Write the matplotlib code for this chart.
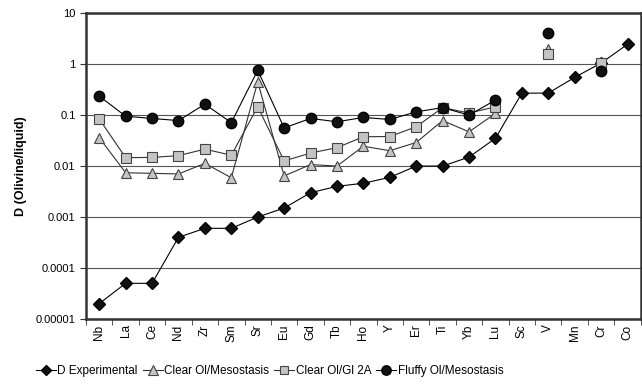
import numpy as np
import matplotlib.pyplot as plt
from matplotlib.ticker import FixedLocator, FixedFormatter, NullLocator

plt.rcParams['font.family'] = ['Liberation Sans', 'DejaVu Sans']

elements = ["Nb", "La", "Ce", "Nd", "Zr", "Sm", "Sr", "Eu", "Gd", "Tb", "Ho",
            "Y", "Er", "Ti", "Yb", "Lu", "Sc", "V", "Mn", "Cr", "Co"]
nan = np.nan
d_exp = [2e-5, 5e-5, 5e-5, 4e-4, 6e-4, 6e-4, 1e-3, 1.5e-3, 3e-3, 4e-3, 4.6e-3,
         6e-3, 0.01, 0.01, 0.015, 0.035, 0.27, 0.27, 0.55, 1.05, 2.45]
clear_meso = [0.036, 0.0074, 0.0072, 0.007, 0.0113, 0.0059, 0.45, 0.0064, 0.0107,
              0.01, 0.0245, 0.02, 0.029, 0.078, 0.047, 0.108, nan, 2.0, nan, 1.1, nan]
clear_gl2a = [0.084, 0.0146, 0.0148, 0.016, 0.0215, 0.0163, 0.146, 0.0126, 0.018,
              0.023, 0.0376, 0.038, 0.059, 0.14, 0.11, 0.145, nan, 1.6, nan, 1.03, nan]
fluffy = [0.236, 0.095, 0.086, 0.078, 0.164, 0.071, 0.76, 0.056, 0.086, 0.074, 0.09,
          0.082, 0.116, 0.14, 0.1, 0.197, nan, 4.0, nan, 0.73, nan]

x = np.arange(len(elements))

fig = plt.figure(figsize=(6.42, 3.88), dpi=100)
ax = fig.add_axes([0.134, 0.178, 0.864, 0.788])

ax.plot(x, d_exp, color="black", lw=0.8, marker="D", ms=5.8, mfc="#111111",
        mec="black", label="D Experimental", zorder=3)
ax.plot(x, clear_meso, color="#333333", lw=0.8, marker="^", ms=7.5, mfc="#c4c4c4",
        mec="#444444", mew=0.8, label="Clear Ol/Mesostasis", zorder=3)
ax.plot(x, clear_gl2a, color="#333333", lw=0.8, marker="s", ms=7, mfc="#c4c4c4",
        mec="#444444", mew=0.8, label="Clear Ol/Gl 2A", zorder=4)
ax.plot(x, fluffy, color="black", lw=0.8, marker="o", ms=7.5, mfc="#111111",
        mec="black", label="Fluffy Ol/Mesostasis", zorder=5)

ax.set_yscale("log")
ax.set_ylim(1e-5, 10)
ax.set_xlim(-0.5, len(elements) - 0.5)
yt = [1e-5, 1e-4, 1e-3, 1e-2, 1e-1, 1, 10]
ax.yaxis.set_major_locator(FixedLocator(yt))
ax.yaxis.set_major_formatter(FixedFormatter(["0.00001", "0.0001", "0.001", "0.01", "0.1", "1", "10"]))
ax.yaxis.set_minor_locator(NullLocator())
ax.grid(axis="y", color="#555555", lw=0.8)

ax.set_xticks(x)
ax.set_xticklabels(elements, rotation=90, fontsize=8.5)
ax.tick_params(axis="x", length=0, pad=4)
ax.set_xticks(np.arange(-0.5, len(elements)), minor=True)
ax.tick_params(axis="x", which="minor", length=4, color="#333333")
ax.tick_params(axis="y", labelsize=8, length=4, color="#333333")

for s in ax.spines.values():
    s.set_linewidth(1.8)
    s.set_color("#333333")

ax.set_ylabel("D (Olivine/liquid)", fontsize=9, fontweight="bold", labelpad=6)

handles, labels = ax.get_legend_handles_labels()
fig.legend(handles, labels, loc="center", bbox_to_anchor=(0.42, 0.044), ncol=4,
           frameon=False, fontsize=8.5, handlelength=1.7, handletextpad=0.15,
           columnspacing=0.4, markerscale=0.9, borderaxespad=0)

fig.savefig("out.png", dpi=100)
